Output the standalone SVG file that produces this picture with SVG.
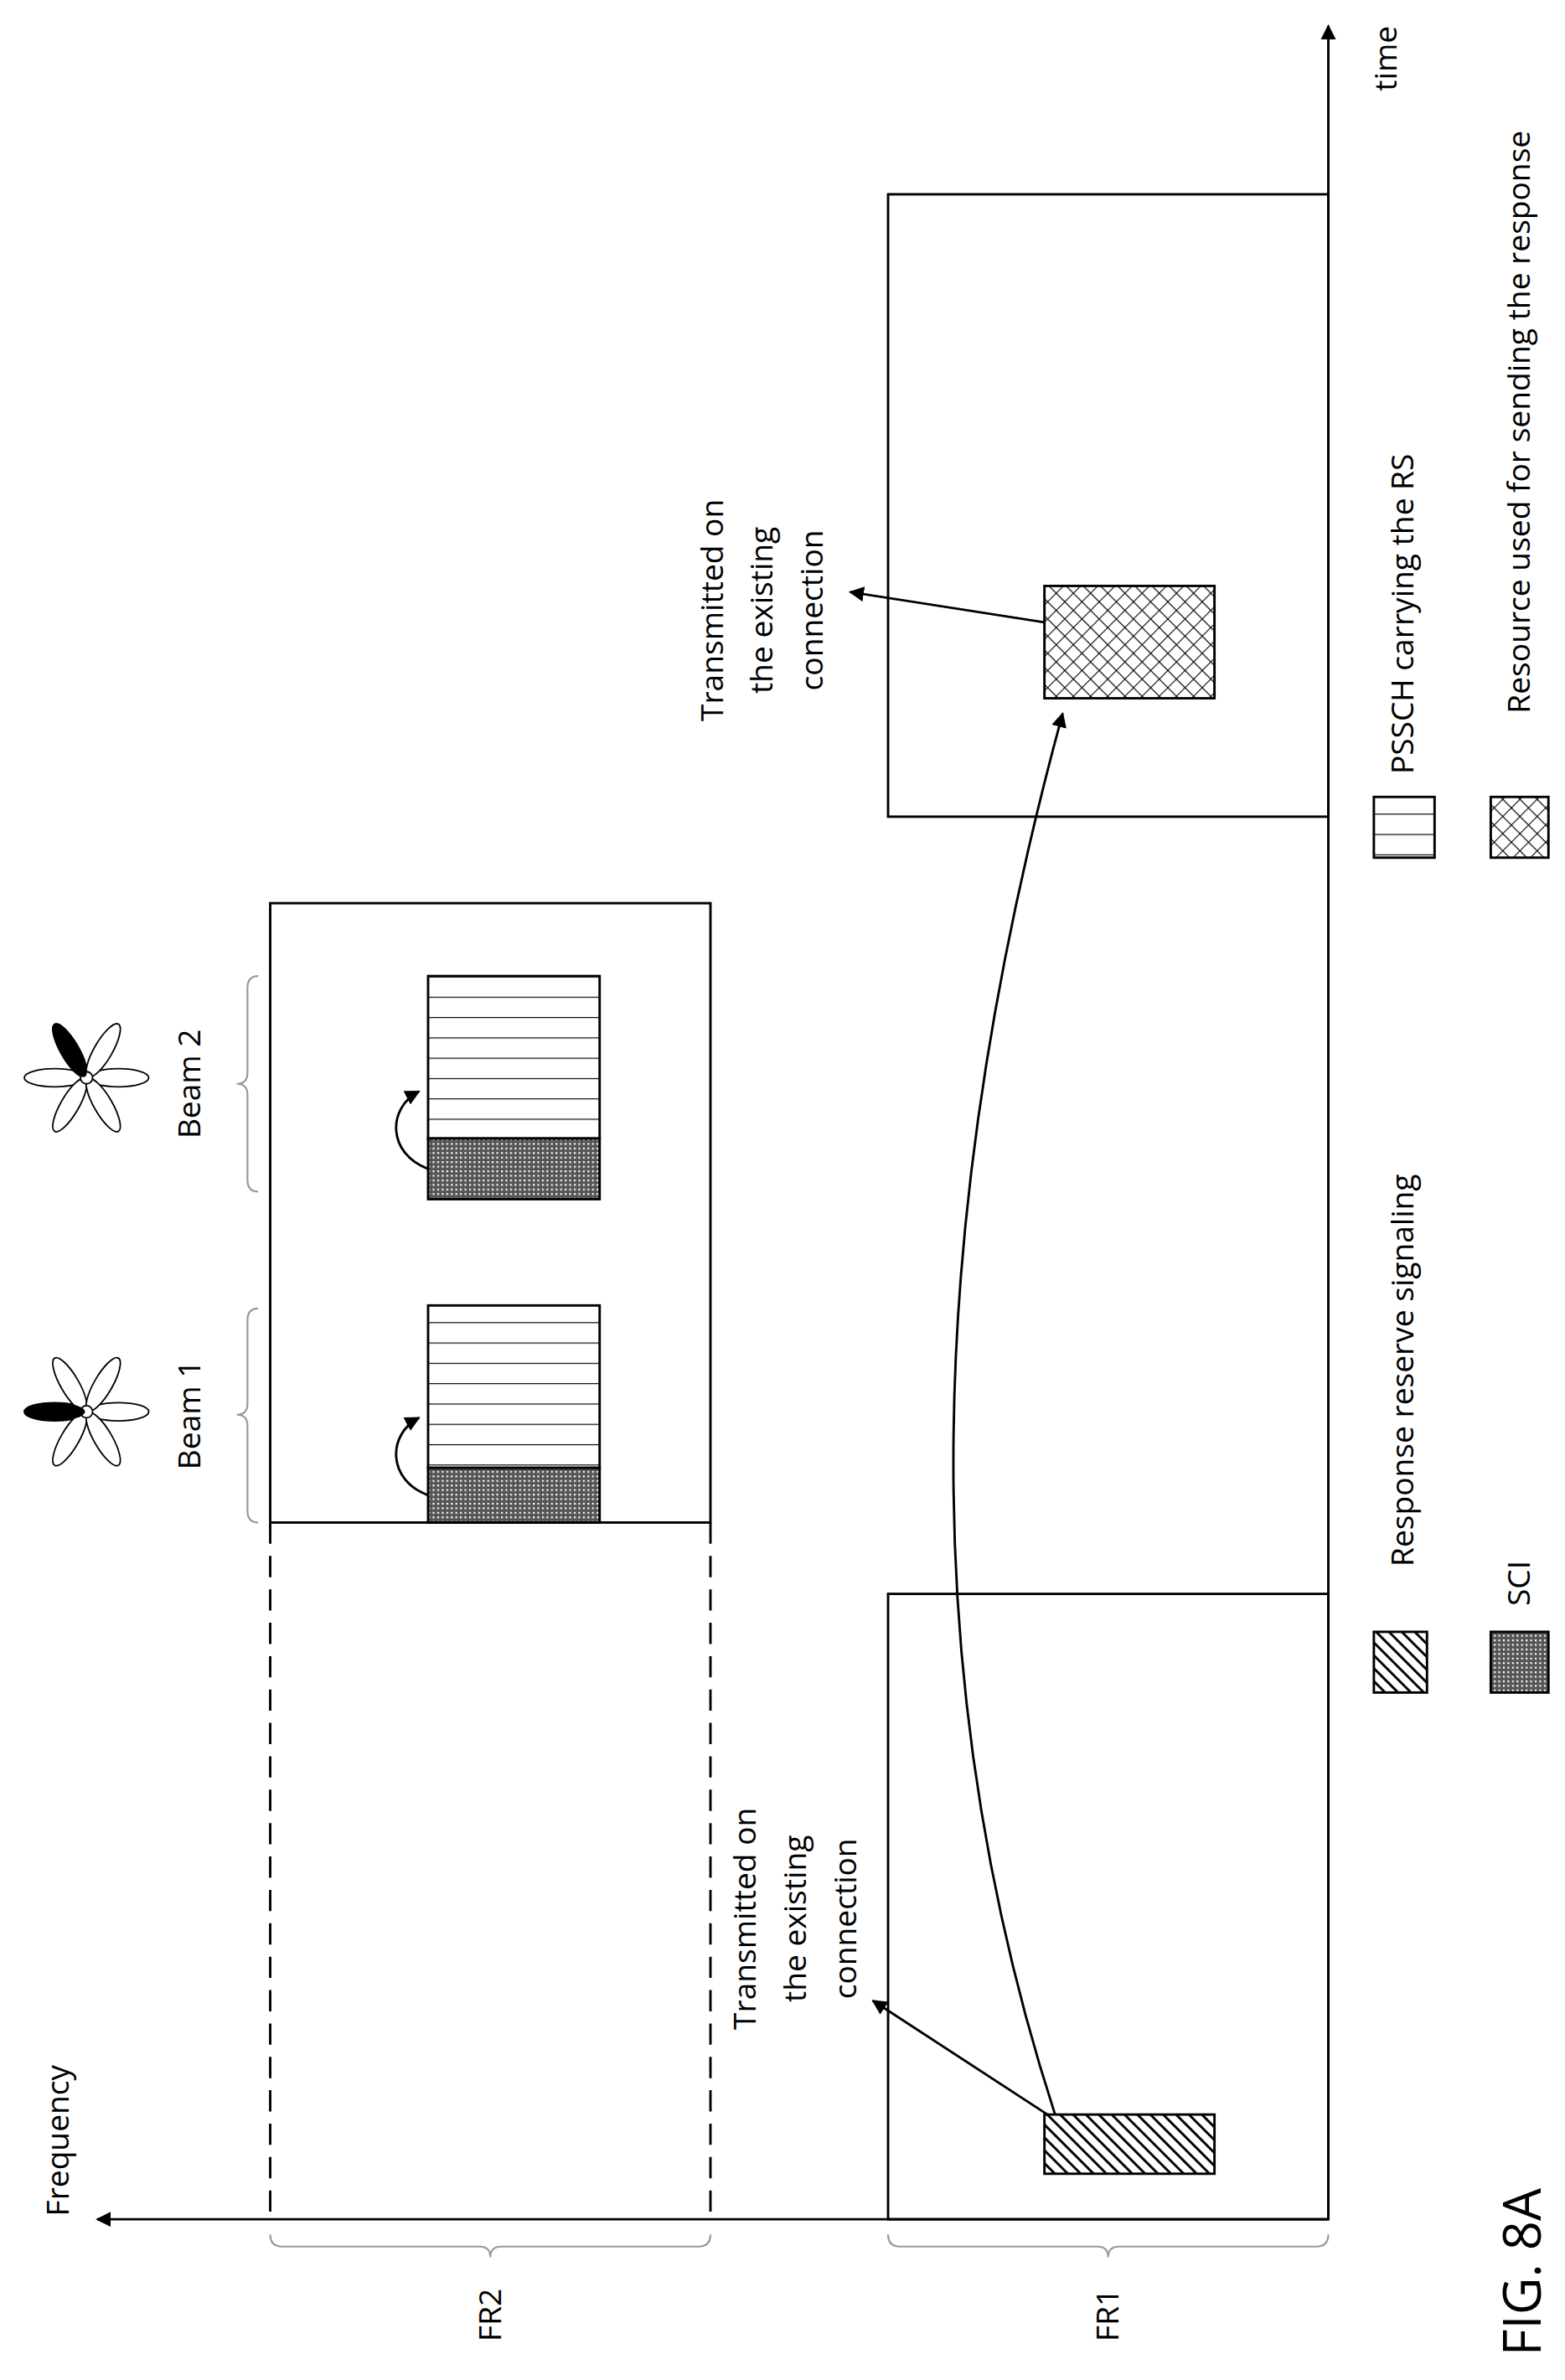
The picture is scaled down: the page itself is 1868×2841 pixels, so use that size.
<svg xmlns="http://www.w3.org/2000/svg" width="1868" height="2841" viewBox="0 0 1868 2841">
<style>
.l{fill:none;stroke:#000;stroke-width:1.6}
.s{stroke:#000;stroke-width:1.6}
.t{font-family:"Open Sans","Liberation Sans",sans-serif;font-size:20.5px;fill:#000}
.br{fill:none;stroke:#999;stroke-width:1.2}
</style>
<defs>
<marker id="ah" markerWidth="10" markerHeight="10" refX="9" refY="5" orient="auto" markerUnits="userSpaceOnUse"><path d="M0,0L10,5L0,10Z" fill="#000"/></marker>
<pattern id="diag" width="6" height="6" patternUnits="userSpaceOnUse" patternTransform="rotate(-45)"><rect width="6" height="6" fill="#fff"/><rect width="1.6" height="6" fill="#000"/></pattern>
<pattern id="cross" width="8" height="8" patternUnits="userSpaceOnUse" patternTransform="rotate(45)"><rect width="8" height="8" fill="#fff"/><path d="M0,0H8M0,0V8" stroke="#000" stroke-width="1.2"/></pattern>
<pattern id="dots" width="3" height="3" patternUnits="userSpaceOnUse"><rect width="3" height="3" fill="#555"/><rect width="1.2" height="1.2" fill="#fff"/></pattern>
<pattern id="stripe" width="10" height="13.4" patternUnits="userSpaceOnUse"><rect width="10" height="13.4" fill="#fff"/><path d="M0,0H10" stroke="#000" stroke-width="1.3"/></pattern>
<g id="flower" fill="#fff" stroke="#000" stroke-width="1"><ellipse cx="-21" cy="0" rx="20" ry="6"/><ellipse cx="21" cy="0" rx="20" ry="6"/><ellipse cx="-11" cy="-18" rx="20" ry="6" transform="rotate(60 -11 -18)"/><ellipse cx="11" cy="-18" rx="20" ry="6" transform="rotate(-60 11 -18)"/><ellipse cx="-11" cy="18" rx="20" ry="6" transform="rotate(-60 -11 18)"/><ellipse cx="11" cy="18" rx="20" ry="6" transform="rotate(60 11 18)"/><circle r="4"/></g>
</defs>
<g transform="scale(1.812)">
<g id="connectors">
<line x1="875" y1="1462" x2="875" y2="17" class="l" marker-end="url(#ah)"/>
<line x1="875" y1="1462" x2="64" y2="1462" class="l" marker-end="url(#ah)"/>
<path d="M695,1393 C600,1100 610,800 700,470" class="l" marker-end="url(#ah)"/>
<line x1="690" y1="1393" x2="575" y2="1318" class="l" marker-end="url(#ah)"/>
<line x1="688" y1="410" x2="560" y2="390" class="l" marker-end="url(#ah)"/>
<path d="M282,985 C255,975 255,945 276,934" class="l" marker-end="url(#ah)"/>
<path d="M282,770 C255,760 255,730 276,719" class="l" marker-end="url(#ah)"/>
</g>
<g id="fr2">
<rect x="178" y="595" width="290" height="408" class="l"/>
<path d="M178,1003V1462M468,1003V1462" class="l" stroke-dasharray="14,8"/>
</g>
<g id="fr1a"><rect x="585" y="1050" width="290" height="412" class="l"/></g>
<g id="fr1b"><rect x="585" y="128" width="290" height="410" class="l"/></g>
<g id="rrs"><rect x="688" y="1393" width="112" height="39" style="fill:url(#diag)" class="s"/></g>
<g id="resp"><rect x="688" y="386" width="112" height="74" style="fill:url(#cross)" class="s"/></g>
<g id="beam1stack"><rect x="282" y="860" width="113" height="107" style="fill:url(#stripe)" class="s"/><rect x="282" y="967" width="113" height="36" style="fill:url(#dots)" class="s"/></g>
<g id="beam2stack"><rect x="282" y="643" width="113" height="107" style="fill:url(#stripe)" class="s"/><rect x="282" y="750" width="113" height="40" style="fill:url(#dots)" class="s"/></g>
<g id="braces">
<path d="M170,862 Q163,862 163,870 V925 Q163,932 156,932 Q163,932 163,939 V995 Q163,1003 170,1003" class="br"/>
<path d="M170,643 Q163,643 163,651 V707 Q163,714 156,714 Q163,714 163,721 V777 Q163,785 170,785" class="br"/>
<path d="M178,1472 Q178,1480 186,1480 H316 Q323,1480 323,1487 Q323,1480 330,1480 H460 Q468,1480 468,1472" class="br"/>
<path d="M585,1472 Q585,1480 593,1480 H723 Q730,1480 730,1487 Q730,1480 737,1480 H867 Q875,1480 875,1472" class="br"/>
</g>
<g id="beam1"><use href="#flower" transform="translate(57,930)"/><ellipse cx="36" cy="930" rx="20" ry="6" fill="#000"/></g>
<g id="beam2"><use href="#flower" transform="translate(57,710)"/><ellipse cx="46" cy="692" rx="20" ry="6" transform="rotate(60 46 692)" fill="#000"/></g>
<g id="legend">
<rect x="905" y="1075" width="35" height="40" style="fill:url(#diag)" class="s"/>
<rect x="982" y="1075" width="38" height="40" style="fill:url(#dots)" class="s"/>
<rect x="905" y="525" width="40" height="40" style="fill:url(#stripe)" class="s"/>
<rect x="982" y="525" width="38" height="40" style="fill:url(#cross)" class="s"/>
</g>
<g id="labels" class="t">
<text transform="translate(45,1460) rotate(-90)">Frequency</text>
<text transform="translate(920,60) rotate(-90)">time</text>
<text transform="translate(132,932) rotate(-90)" text-anchor="middle">Beam 1</text>
<text transform="translate(132,714) rotate(-90)" text-anchor="middle">Beam 2</text>
<text transform="translate(330,1525) rotate(-90)" text-anchor="middle">FR2</text>
<text transform="translate(737,1525) rotate(-90)" text-anchor="middle">FR1</text>
<text transform="translate(498,1264) rotate(-90)" text-anchor="middle">Transmitted on</text>
<text transform="translate(531,1264) rotate(-90)" text-anchor="middle">the existing</text>
<text transform="translate(564,1264) rotate(-90)" text-anchor="middle">connection</text>
<text transform="translate(476,402) rotate(-90)" text-anchor="middle">Transmitted on</text>
<text transform="translate(509,402) rotate(-90)" text-anchor="middle">the existing</text>
<text transform="translate(542,402) rotate(-90)" text-anchor="middle">connection</text>
<text transform="translate(931,1032) rotate(-90)">Response reserve signaling</text>
<text transform="translate(1008,1058) rotate(-90)">SCI</text>
<text transform="translate(931,510) rotate(-90)">PSSCH carrying the RS</text>
<text transform="translate(1008,470) rotate(-90)">Resource used for sending the response</text>
<text transform="translate(1015,1552) rotate(-90)" font-size="34">FIG. 8A</text>
</g>
</g>
</svg>
